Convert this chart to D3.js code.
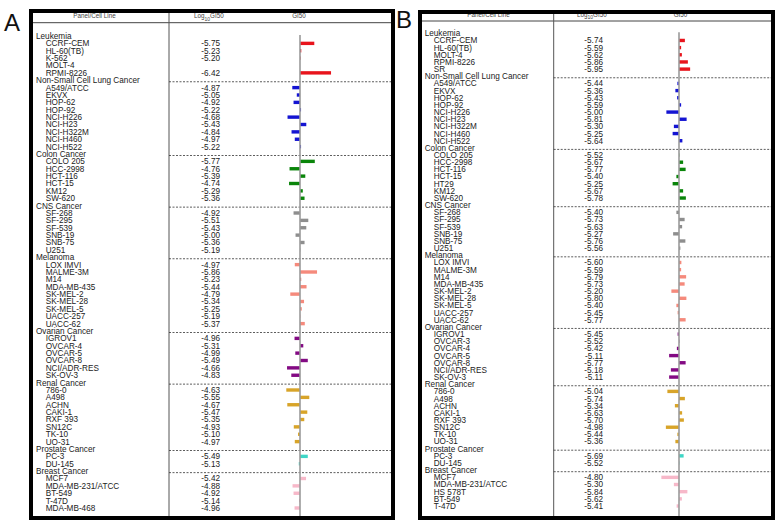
<!DOCTYPE html>
<html>
<head>
<meta charset="utf-8">
<script src="https://cdn.jsdelivr.net/npm/d3@7"></script>
<style>
  body { margin: 0; background: #fff; }
  svg { display: block; font-family: "Liberation Sans", Arial, sans-serif; }
</style>
</head>
<body>
<div class="chart"></div>
<script>
// ---- data ----
var panelGroups = ["Leukemia", "Non-Small Cell Lung Cancer", "Colon Cancer", "CNS Cancer",
  "Melanoma", "Ovarian Cancer", "Renal Cancer", "Prostate Cancer", "Breast Cancer"];

var cellLinesA = [
  ["CCRF-CEM", "HL-60(TB)", "K-562", "MOLT-4", "RPMI-8226"],
  ["A549/ATCC", "EKVX", "HOP-62", "HOP-92", "NCI-H226", "NCI-H23", "NCI-H322M", "NCI-H460", "NCI-H522"],
  ["COLO 205", "HCC-2998", "HCT-116", "HCT-15", "KM12", "SW-620"],
  ["SF-268", "SF-295", "SF-539", "SNB-19", "SNB-75", "U251"],
  ["LOX IMVI", "MALME-3M", "M14", "MDA-MB-435", "SK-MEL-2", "SK-MEL-28", "SK-MEL-5", "UACC-257", "UACC-62"],
  ["IGROV1", "OVCAR-4", "OVCAR-5", "OVCAR-8", "NCI/ADR-RES", "SK-OV-3"],
  ["786-0", "A498", "ACHN", "CAKI-1", "RXF 393", "SN12C", "TK-10", "UO-31"],
  ["PC-3", "DU-145"],
  ["MCF7", "MDA-MB-231/ATCC", "BT-549", "T-47D", "MDA-MB-468"]
];
var logGI50A = [
  [-5.75, -5.23, -5.20, null, -6.42],
  [-4.87, -5.05, -4.92, -5.22, -4.68, -5.43, -4.84, -4.97, -5.22],
  [-5.77, -4.76, -5.39, -4.74, -5.29, -5.36],
  [-4.92, -5.51, -5.43, -5.00, -5.36, -5.19],
  [-4.97, -5.86, -5.23, -5.44, -4.79, -5.34, -5.25, -5.19, -5.37],
  [-4.96, -5.31, -4.99, -5.49, -4.66, -4.83],
  [-4.63, -5.55, -4.67, -5.47, -5.35, -4.93, -5.10, -4.97],
  [-5.49, -5.13],
  [-5.42, -4.88, -4.92, -5.14, -4.96]
];

var cellLinesB = [
  ["CCRF-CEM", "HL-60(TB)", "MOLT-4", "RPMI-8226", "SR"],
  ["A549/ATCC", "EKVX", "HOP-62", "HOP-92", "NCI-H226", "NCI-H23", "NCI-H322M", "NCI-H460", "NCI-H522"],
  ["COLO 205", "HCC-2998", "HCT-116", "HCT-15", "HT29", "KM12", "SW-620"],
  ["SF-268", "SF-295", "SF-539", "SNB-19", "SNB-75", "U251"],
  ["LOX IMVI", "MALME-3M", "M14", "MDA-MB-435", "SK-MEL-2", "SK-MEL-28", "SK-MEL-5", "UACC-257", "UACC-62"],
  ["IGROV1", "OVCAR-3", "OVCAR-4", "OVCAR-5", "OVCAR-8", "NCI/ADR-RES", "SK-OV-3"],
  ["786-0", "A498", "ACHN", "CAKI-1", "RXF 393", "SN12C", "TK-10", "UO-31"],
  ["PC-3", "DU-145"],
  ["MCF7", "MDA-MB-231/ATCC", "HS 578T", "BT-549", "T-47D"]
];
var logGI50B = [
  [-5.74, -5.59, -5.62, -5.86, -5.95],
  [-5.44, -5.36, -5.43, -5.59, -5.00, -5.81, -5.30, -5.25, -5.64],
  [-5.52, -5.67, -5.77, -5.40, -5.25, -5.67, -5.78],
  [-5.40, -5.73, -5.63, -5.27, -5.76, -5.56],
  [-5.60, -5.59, -5.79, -5.73, -5.20, -5.80, -5.40, -5.45, -5.77],
  [-5.45, -5.52, -5.42, -5.11, -5.77, -5.18, -5.11],
  [-5.04, -5.74, -5.34, -5.63, -5.70, -4.98, -5.44, -5.36],
  [-5.69, -5.52],
  [-4.80, -5.30, -5.84, -5.62, -5.41]
];

var groupColors = ["#e8141c", "#1414d2", "#0a850a", "#8e8e8e", "#f58a7c",
  "#830a83", "#d8a429", "#3ed6c6", "#f7b8c9"];

// ---- layout of each panel ----
var panels = [
  {label: "A", lines: cellLinesA, values: logGI50A, labelX: 4, labelY: 31,
   box: [31, 11, 393, 518], headY: 22.7, divX: 169, axisX: 300, numX: 220,
   groupX: 36, cellX: 45.7, firstY: 36, lastY: 508, titleY: 18,
   titleX: [94.5, 194, 299]},
  {label: "B", lines: cellLinesB, values: logGI50B, labelX: 396, labelY: 28,
   box: [420, 12, 773, 518], headY: 21, divX: 553.7, axisX: 679, numX: 603,
   groupX: 424.7, cellX: 433.7, firstY: 33.3, lastY: 506, titleY: 16.5,
   titleX: [488.5, 577, 680.5]}
];

var pxPerLog = 25;

var svg = d3.select(".chart").append("svg")
  .attr("width", 778)
  .attr("height", 524);

panels.forEach(function(p) {
  var rows = [];
  panelGroups.forEach(function(g, gi) {
    rows.push({kind: "group", name: g, gi: gi});
    p.lines[gi].forEach(function(name, ci) {
      rows.push({kind: "cell", name: name, gi: gi, value: p.values[gi][ci]});
    });
  });
  var cells = rows.filter(function(d) { return d.kind == "cell" && d.value != null; });
  var mean = d3.mean(cells, function(d) { return d.value; });

  var y = d3.scaleLinear().domain([0, rows.length - 1]).range([p.firstY, p.lastY]);
  var x = d3.scaleLinear().domain([mean, mean - 1]).range([p.axisX, p.axisX + pxPerLog]);
  rows.forEach(function(d, i) { d.i = i; });

  var g = svg.append("g").attr("class", "panel-" + p.label);
  var b = p.box;

  g.append("text")
    .attr("x", p.labelX).attr("y", p.labelY)
    .attr("font-size", "24px")
    .attr("fill", "#111")
    .text(p.label);

  // header
  g.append("line")
    .attr("x1", b[0]).attr("x2", b[2]).attr("y1", p.headY).attr("y2", p.headY)
    .attr("stroke", "#444").attr("stroke-width", 1);
  g.append("line")
    .attr("x1", p.divX).attr("x2", p.divX).attr("y1", b[1]).attr("y2", b[3])
    .attr("stroke", "#555").attr("stroke-width", 1);

  var head = g.append("g").attr("font-size", "6.3px").attr("fill", "#444");
  head.append("text").attr("x", p.titleX[0]).attr("y", p.titleY)
    .attr("text-anchor", "middle").text("Panel/Cell Line");
  var lg = head.append("text").attr("x", p.titleX[1]).attr("y", p.titleY);
  lg.append("tspan").text("Log");
  lg.append("tspan").attr("dy", 2.5).attr("font-size", "5px").text("10");
  lg.append("tspan").attr("dy", -2.5).text("GI50");
  head.append("text").attr("x", p.titleX[2]).attr("y", p.titleY)
    .attr("text-anchor", "middle").text("GI50");

  // dashed separators before each panel group (except first)
  g.selectAll(".sep")
    .data(rows.filter(function(d) { return d.kind == "group" && d.gi > 0; }))
    .enter()
    .append("line")
    .attr("class", "sep")
    .attr("x1", p.divX).attr("x2", b[2])
    .attr("y1", function(d) { return y(d.i) + 1.5; })
    .attr("y2", function(d) { return y(d.i) + 1.5; })
    .attr("stroke", "#333").attr("stroke-width", 0.8)
    .attr("stroke-dasharray", "2,1.5");

  // row labels
  g.selectAll(".rowlabel")
    .data(rows)
    .enter()
    .append("text")
    .attr("class", "rowlabel")
    .attr("x", function(d) { return d.kind == "group" ? p.groupX : p.cellX; })
    .attr("y", function(d) { return y(d.i); })
    .attr("dy", "0.36em")
    .attr("font-size", "8.2px")
    .attr("fill", "#222")
    .text(function(d) { return d.name; });

  g.selectAll(".num")
    .data(cells)
    .enter()
    .append("text")
    .attr("class", "num")
    .attr("x", p.numX)
    .attr("y", function(d) { return y(d.i); })
    .attr("dy", "0.36em")
    .attr("text-anchor", "end")
    .attr("font-size", "8.2px")
    .attr("fill", "#222")
    .text(function(d) { return d3.format(".2f")(d.value).replace("−", "-"); });

  // bars relative to the mean
  g.selectAll(".bar")
    .data(cells)
    .enter()
    .append("rect")
    .attr("class", "bar")
    .attr("x", function(d) { return Math.min(x(mean), x(d.value)); })
    .attr("width", function(d) { return Math.abs(x(d.value) - x(mean)); })
    .attr("y", function(d) { return y(d.i) - 1.7; })
    .attr("height", 3.4)
    .attr("fill", function(d) { return groupColors[d.gi]; });

  g.append("line")
    .attr("x1", x(mean)).attr("x2", x(mean))
    .attr("y1", y(0) - 1).attr("y2", b[3])
    .attr("stroke", "#9a9a9a").attr("stroke-width", 1.6);

  g.append("rect")
    .attr("x", b[0]).attr("y", b[1])
    .attr("width", b[2] - b[0]).attr("height", b[3] - b[1])
    .attr("fill", "none").attr("stroke", "#000").attr("stroke-width", 4);
});
</script>
</body>
</html>
